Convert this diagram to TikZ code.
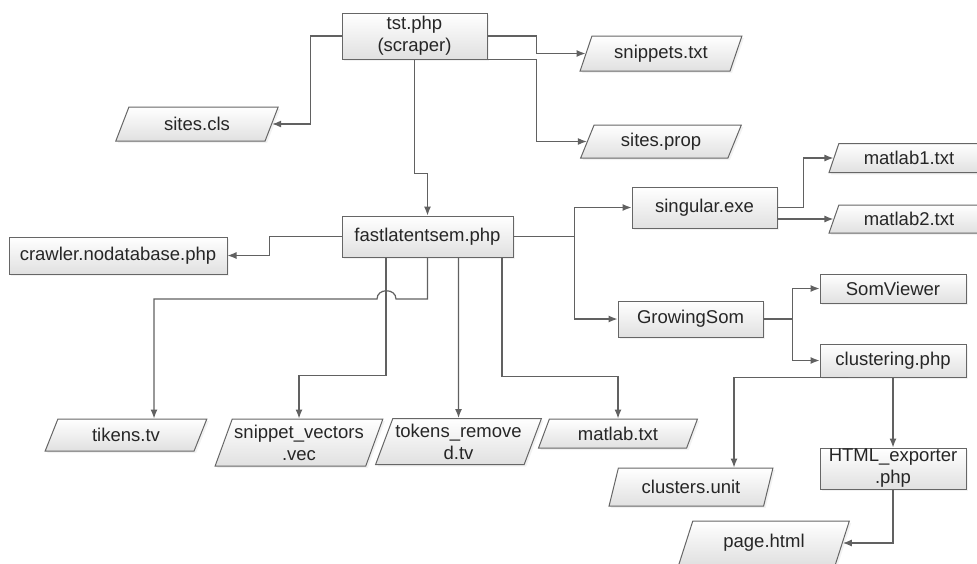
\documentclass[tikz,border=0pt]{standalone}
\usepackage{fontspec}
\setmainfont{Liberation Sans}
\usetikzlibrary{shapes.geometric,arrows.meta,shadows}

\begin{document}
\begin{tikzpicture}[x=1pt, y=-1pt, >={Latex[length=9pt,width=7pt]},
	main/.style = {draw=black!60, line width=1pt, top color=white, bottom color=black!12, inner sep=0pt, align=center, font=\fontsize{18.5}{22}\selectfont, text=black!85, drop shadow={opacity=0.1, shadow xshift=2pt, shadow yshift=-2pt}},
	file/.style = {main, trapezium, trapezium left angle=65, trapezium right angle=115, trapezium stretches=true},
	wire/.style = {draw=black!62, line width=1.2pt}]
	\useasboundingbox (0,0) rectangle (977,563);
	\node[main, minimum width=145, minimum height=46] (1) at (414.5,36) {tst.php\\(scraper)};
	\node[file, minimum width=163, minimum height=34] (2) at (197,124) {sites.cls};
	\node[file, minimum width=162, minimum height=35] (3) at (661,53.5) {snippets.txt};
	\node[file, minimum width=162, minimum height=33] (4) at (661,141.5) {sites.prop};
	\node[main, minimum width=171, minimum height=41] (5) at (427.5,236.5) {fastlatentsem.php};
	\node[main, minimum width=218, minimum height=37] (6) at (118,255.5) {crawler.nodatabase.php};
	\node[file, minimum width=162, minimum height=32] (7) at (126,435) {tikens.tv};
	\node[file, minimum width=168, minimum height=47] (8) at (299,442.5) {snippet\_vectors\\.vec};
	\node[file, minimum width=166, minimum height=46] (9) at (458.5,441.5) {tokens\_remove\\d.tv};
	\node[file, minimum width=160, minimum height=29] (10) at (618,433.5) {matlab.txt};
	\node[main, minimum width=145, minimum height=41] (11) at (704.5,207.5) {singular.exe};
	\node[file, minimum width=160, minimum height=29] (12) at (909,158) {matlab1.txt};
	\node[file, minimum width=160, minimum height=28] (13) at (909,219) {matlab2.txt};
	\node[main, minimum width=145, minimum height=36] (14) at (690.5,319) {GrowingSom};
	\node[main, minimum width=146, minimum height=29] (15) at (893,288.5) {SomViewer};
	\node[main, minimum width=146, minimum height=33] (16) at (893,360.5) {clustering.php};
	\node[file, minimum width=164, minimum height=38] (17) at (691,487) {clusters.unit};
	\node[main, minimum width=146, minimum height=41] (18) at (893,468.5) {HTML\_exporter\\.php};
	\node[file, minimum width=172, minimum height=44] (19) at (764,543) {page.html};
	\draw[->, wire] (1.west) -- ++(-31,0) |- (2.east);
	\draw[->, wire] (1.east) -- ++(49,0) |- (3.west);
	\draw[->, wire] (1.south east) -- ++(49,0) |- (4.west);
	\draw[->, wire] (1.south) -- ++(0,114) -| (5.north);
	\draw[->, wire] (5.west) -- ++(-72,0) |- (6.east);
	% hop over the line to snippet_vectors
	\draw[->, wire] (5.south) -- (427.5,299) -- (396,299) .. controls (396,288) and (377,288) .. (377,299) -| ([xshift=28]7.north);
	\draw[->, wire] ([xshift=-41.5]5.south) -- ++(0,118) -| (8.north);
	\draw[->, wire] ([xshift=31]5.south) -- (9.north);
	\draw[->, wire] ([xshift=74.5]5.south) -- ++(0,119) -| (10.north);
	\draw[->, wire] (5.east) -- ++(61,0) |- (11.west);
	\draw[->, wire] (5.east) -- ++(61,0) |- (14.west);
	\draw[->, wire] (11.east) -- ++(26,0) |- (12.west);
	\draw[->, wire] (11.east |- 13.west) -- (13.west);
	\draw[->, wire] (14.east) -- ++(29,0) |- (15.west);
	\draw[->, wire] (14.east) -- ++(29,0) |- (16.west);
	\draw[->, wire] ([xshift=-45]16.south) -| ([xshift=43]17.north);
	\draw[->, wire] (16.south) -- (18.north);
	\draw[->, wire] (18.south) |- (19.east);
\end{tikzpicture}
\end{document}
